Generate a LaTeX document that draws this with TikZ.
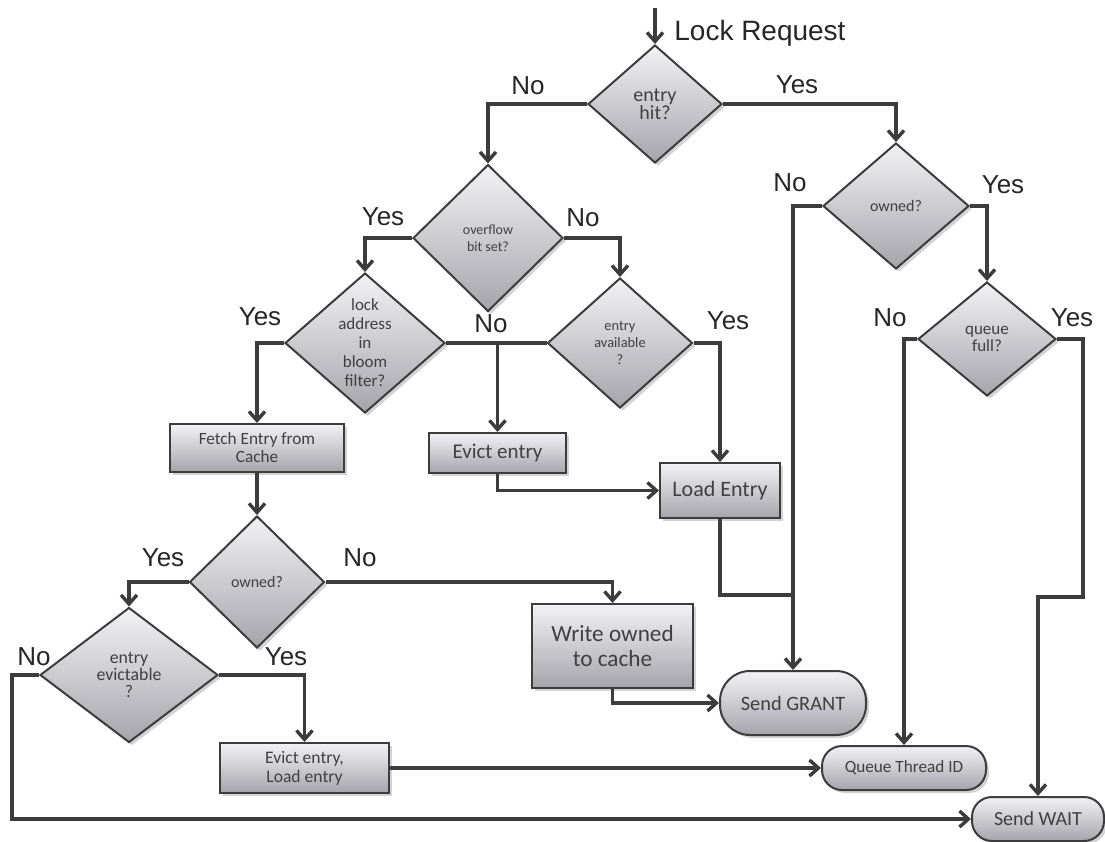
\documentclass[tikz,border=0pt]{standalone}
\usepackage{fontspec}
\setmainfont{Carlito}
\newfontfamily\answerfont{Liberation Sans}
\usepackage{tikz}
\usetikzlibrary{shapes.geometric,arrows.meta,shadows}

\definecolor{linegray}{HTML}{3C3C3C}
\definecolor{textgray}{HTML}{404040}
\definecolor{shadetop}{HTML}{F2F2F6}
\definecolor{shadebot}{HTML}{A4A4AA}

\begin{document}
\begin{tikzpicture}[->,>={Straight Barb[length=4.5pt,width=8pt]},x=0.5pt,y=-0.5pt,
  line width=1.7pt,
  box/.style={draw=linegray,line width=1pt,top color=shadetop,bottom color=shadebot,
    text=textgray,align=center,inner sep=0pt,
    drop shadow={shadow xshift=1.5pt,shadow yshift=-1.5pt,opacity=0.35}},
  decision/.style={box,diamond},
  process/.style={box,rectangle},
  terminal/.style={box,rectangle,rounded corners=#1},
  answer/.style={font=\answerfont\fontsize{13}{13}\selectfont,text=black!85}]
  \useasboundingbox (0,0) rectangle (1105,842);

  % decisions
  \node[decision,minimum width=67pt,minimum height=59pt,font=\fontsize{10}{9}\selectfont] (hit) at (655,104) {entry\\hit?};
  \node[decision,minimum width=75pt,minimum height=73.5pt,font=\fontsize{7}{8.5}\selectfont] (ovf) at (488,238) {overflow\\bit set?};
  \node[decision,minimum width=73pt,minimum height=63pt,font=\fontsize{8}{9}\selectfont] (own1) at (896,206) {owned?};
  \node[decision,minimum width=69pt,minimum height=57pt,font=\fontsize{8.5}{8.5}\selectfont] (qfull) at (987,339) {queue\\full?};
  \node[decision,minimum width=80pt,minimum height=70pt,shape aspect=1.15,font=\fontsize{8.5}{9.5}\selectfont] (lock) at (365,343) {lock\\address\\in\\bloom\\filter?};
  \node[decision,minimum width=72.5pt,minimum height=65pt,font=\fontsize{7.2}{8.7}\selectfont] (avail) at (620,343) {entry\\available\\?};
  \node[decision,minimum width=67.5pt,minimum height=66pt,font=\fontsize{8}{9}\selectfont] (own2) at (257,582) {owned?};
  \node[decision,minimum width=89pt,minimum height=67.5pt,font=\fontsize{8.9}{8.5}\selectfont] (evl) at (129,675) {entry\\evictable\\?};

  % processes
  \node[process,minimum width=87pt,minimum height=24pt,font=\fontsize{8.6}{9}\selectfont] (fetch) at (257,448) {Fetch Entry from\\Cache};
  \node[process,minimum width=68.5pt,minimum height=20pt,font=\fontsize{10.5}{11}\selectfont] (evict) at (497.5,453) {Evict entry};
  \node[process,minimum width=60pt,minimum height=27.5pt,font=\fontsize{11}{12}\selectfont] (load) at (720,490.5) {Load Entry};
  \node[process,minimum width=80.5pt,minimum height=42pt,font=\fontsize{11.6}{12.5}\selectfont] (write) at (612.5,646) {Write owned\\to cache};
  \node[process,minimum width=84.5pt,minimum height=25pt,font=\fontsize{8.8}{9.5}\selectfont] (evload) at (304.5,768) {Evict entry,\\Load entry};

  % terminals
  \node[terminal=15pt,minimum width=73pt,minimum height=32pt,font=\fontsize{10.2}{11}\selectfont] (grant) at (793,703) {Send GRANT};
  \node[terminal=10pt,minimum width=82pt,minimum height=22pt,font=\fontsize{8.6}{9}\selectfont] (queue) at (904,768) {Queue Thread ID};
  \node[terminal=10pt,minimum width=66pt,minimum height=22pt,font=\fontsize{10}{11}\selectfont] (wait) at (1038,819) {Send WAIT};

  \coordinate (start) at (655,8);
  \coordinate (qj) at (1083,597);
  \coordinate (gj) at (793,595);
  \coordinate (lc) at (12,675);
  \node[anchor=west,font=\answerfont\fontsize{14}{14}\selectfont,text=black!85] (lockreq) at (666,33) {Lock Request};

  % connectors
  \draw[linegray] (start) -- (hit.north);
  \draw[linegray] (hit.west) -| (ovf.north);
  \draw[linegray] (hit.east) -| (own1.north);
  \draw[linegray] (own1.west) -| (grant.north);
  \draw[linegray] (own1.east) -| (qfull.north);
  \draw[linegray] (qfull.west) -| (queue.north);
  \draw[linegray] (qfull.east) -| (qj) -| (wait.north);
  \draw[linegray] (ovf.west) -| (lock.north);
  \draw[linegray] (ovf.east) -| (avail.north);
  \draw[linegray,-] (lock.east) -- (avail.west);
  \draw[linegray] (evict.north |- lock.east) -- (evict.north);
  \draw[linegray] (avail.east) -| (load.north);
  \draw[linegray] (evict.south) |- (load.west);
  \draw[linegray,-] (load.south) |- (gj);
  \draw[linegray] (lock.west) -| (fetch.north);
  \draw[linegray] (fetch.south) -- (own2.north);
  \draw[linegray] (own2.west) -| (evl.north);
  \draw[linegray] (own2.east) -| (write.north);
  \draw[linegray] (write.south) |- (grant.west);
  \draw[linegray] (evl.east) -| (evload.north);
  \draw[linegray] (evl.west) -- (lc) |- (wait.west);
  \draw[linegray] (evload.east) -- (queue.west);

  % yes / no
  \node[answer] (hitno) at (528,86) {No};
  \node[answer] (hityes) at (797,85) {Yes};
  \node[answer] (own1no) at (790,183) {No};
  \node[answer] (own1yes) at (1003,185) {Yes};
  \node[answer] (qfullno) at (890,318) {No};
  \node[answer] (qfullyes) at (1072,318) {Yes};
  \node[answer] (ovfyes) at (383,217) {Yes};
  \node[answer] (ovfno) at (583,218) {No};
  \node[answer] (lockno) at (491,324) {No};
  \node[answer] (availyes) at (728,321) {Yes};
  \node[answer] (lockyes) at (260,317) {Yes};
  \node[answer] (own2yes) at (163,558) {Yes};
  \node[answer] (own2no) at (360,558) {No};
  \node[answer] (evlno) at (34,657) {No};
  \node[answer] (evlyes) at (286,657) {Yes};
\end{tikzpicture}
\end{document}
